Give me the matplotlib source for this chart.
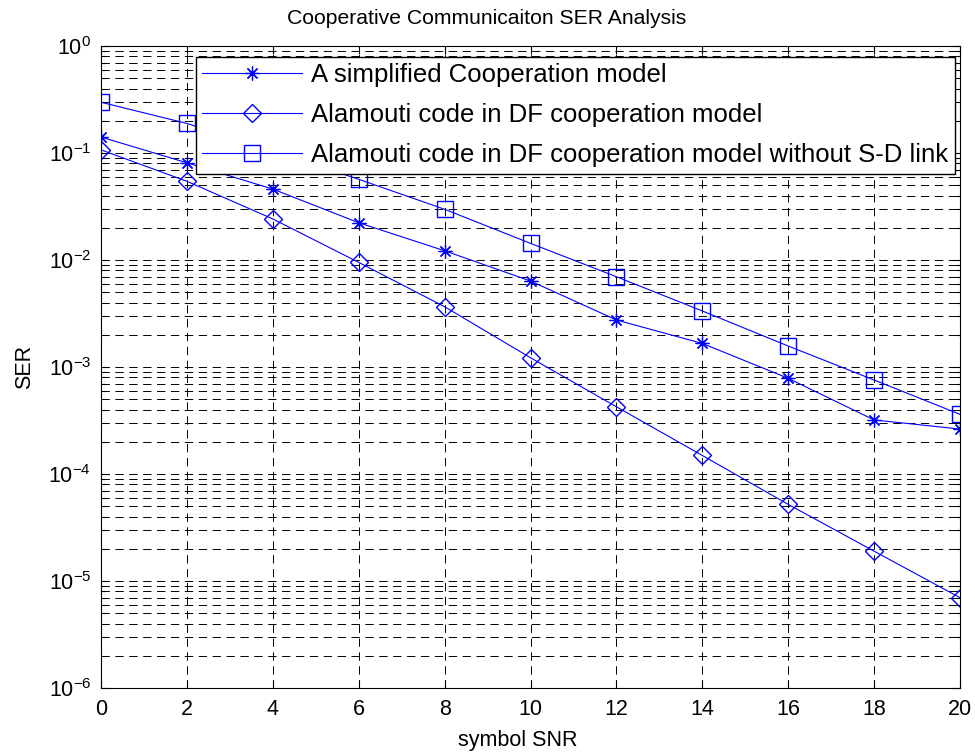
import matplotlib
matplotlib.use("Agg")
import matplotlib.pyplot as plt
import numpy as np
from matplotlib.ticker import LogLocator, NullFormatter

# SNR points (dB)
snr = [0, 2, 4, 6, 8, 10, 12, 14, 16, 18, 20]

# SER values
ser_simple = [0.141, 0.081, 0.046, 0.0223, 0.0122, 0.00636, 0.00275,
              0.00166, 0.000784, 0.00032, 0.000263]
ser_df = [0.107, 0.0544, 0.0242, 0.0095, 0.00366, 0.00122, 0.000425,
          0.000149, 5.2e-5, 1.9e-5, 6.98e-6]
ser_df_nosd = [0.298, 0.189, 0.105, 0.0568, 0.0298, 0.0143, 0.00698,
               0.00334, 0.00157, 0.000756, 0.000361]

labels = ['A simplified Cooperation model',
          'Alamouti code in DF cooperation model',
          'Alamouti code in DF cooperation model without S-D link']

plt.rcParams['font.family'] = ['Liberation Sans', 'DejaVu Sans']
plt.rcParams['mathtext.fontset'] = 'custom'
plt.rcParams['mathtext.rm'] = 'Liberation Sans'
plt.rcParams['mathtext.it'] = 'Liberation Sans'
plt.rcParams['lines.scale_dashes'] = False
plt.rcParams['axes.unicode_minus'] = False

fig = plt.figure(figsize=(9.75, 7.53), dpi=100)
ax = fig.add_axes([101 / 975, 65 / 753, 859 / 975, 642 / 753])

blue = (0, 0, 1)
asterisk = (8, 2, 0)
ax.semilogy(snr, ser_simple, '-', color=blue, lw=0.8, marker=asterisk,
            ms=10, mec=blue, mew=0.9, label=labels[0])
ax.semilogy(snr, ser_df, '-', color=blue, lw=0.8, marker='D', ms=9,
            mfc='none', mec=blue, mew=1.0, label=labels[1])
ax.semilogy(snr, ser_df_nosd, '-', color=blue, lw=0.8, marker='s', ms=11,
            mfc='none', mec=blue, mew=1.0, label=labels[2])

ax.set_xlim(0, 20)
ax.set_ylim(1e-6, 1)
ax.set_xticks(range(0, 21, 2))
ax.yaxis.set_major_locator(LogLocator(base=10, numticks=10))
ax.yaxis.set_minor_locator(LogLocator(base=10, subs=np.arange(2, 10), numticks=20))
ax.yaxis.set_minor_formatter(NullFormatter())

dash = (0, (6, 4))
ax.grid(True, which='major', axis='both', color='k', lw=0.7, linestyle=dash)
ax.grid(True, which='minor', axis='y', color='k', lw=0.7, linestyle=dash)

ax.tick_params(which='both', direction='in', top=True, right=True,
               labelsize=15.5, width=0.8)
ax.tick_params(which='major', length=6)
ax.tick_params(which='minor', length=3)
ax.tick_params(axis='x', pad=8)
ax.tick_params(axis='y', pad=7)
for s in ax.spines.values():
    s.set_linewidth(0.8)

ax.set_title('Cooperative Communicaiton SER Analysis', fontsize=15.2,
             pad=16, x=0.449)
ax.set_xlabel('symbol SNR', fontsize=15.5)
ax.xaxis.set_label_coords(0.4855, -0.066)
ax.set_ylabel('SER', fontsize=15.5, labelpad=10)

leg = ax.legend(loc='upper right', bbox_to_anchor=(0.994, 0.983),
                borderaxespad=0, fancybox=False, framealpha=1,
                edgecolor='k', fontsize=18.5, handlelength=3.9,
                handletextpad=0.35, labelspacing=0.62, borderpad=0.25)
leg.get_frame().set_linewidth(1.0)

fig.savefig('out.png', dpi=100)
